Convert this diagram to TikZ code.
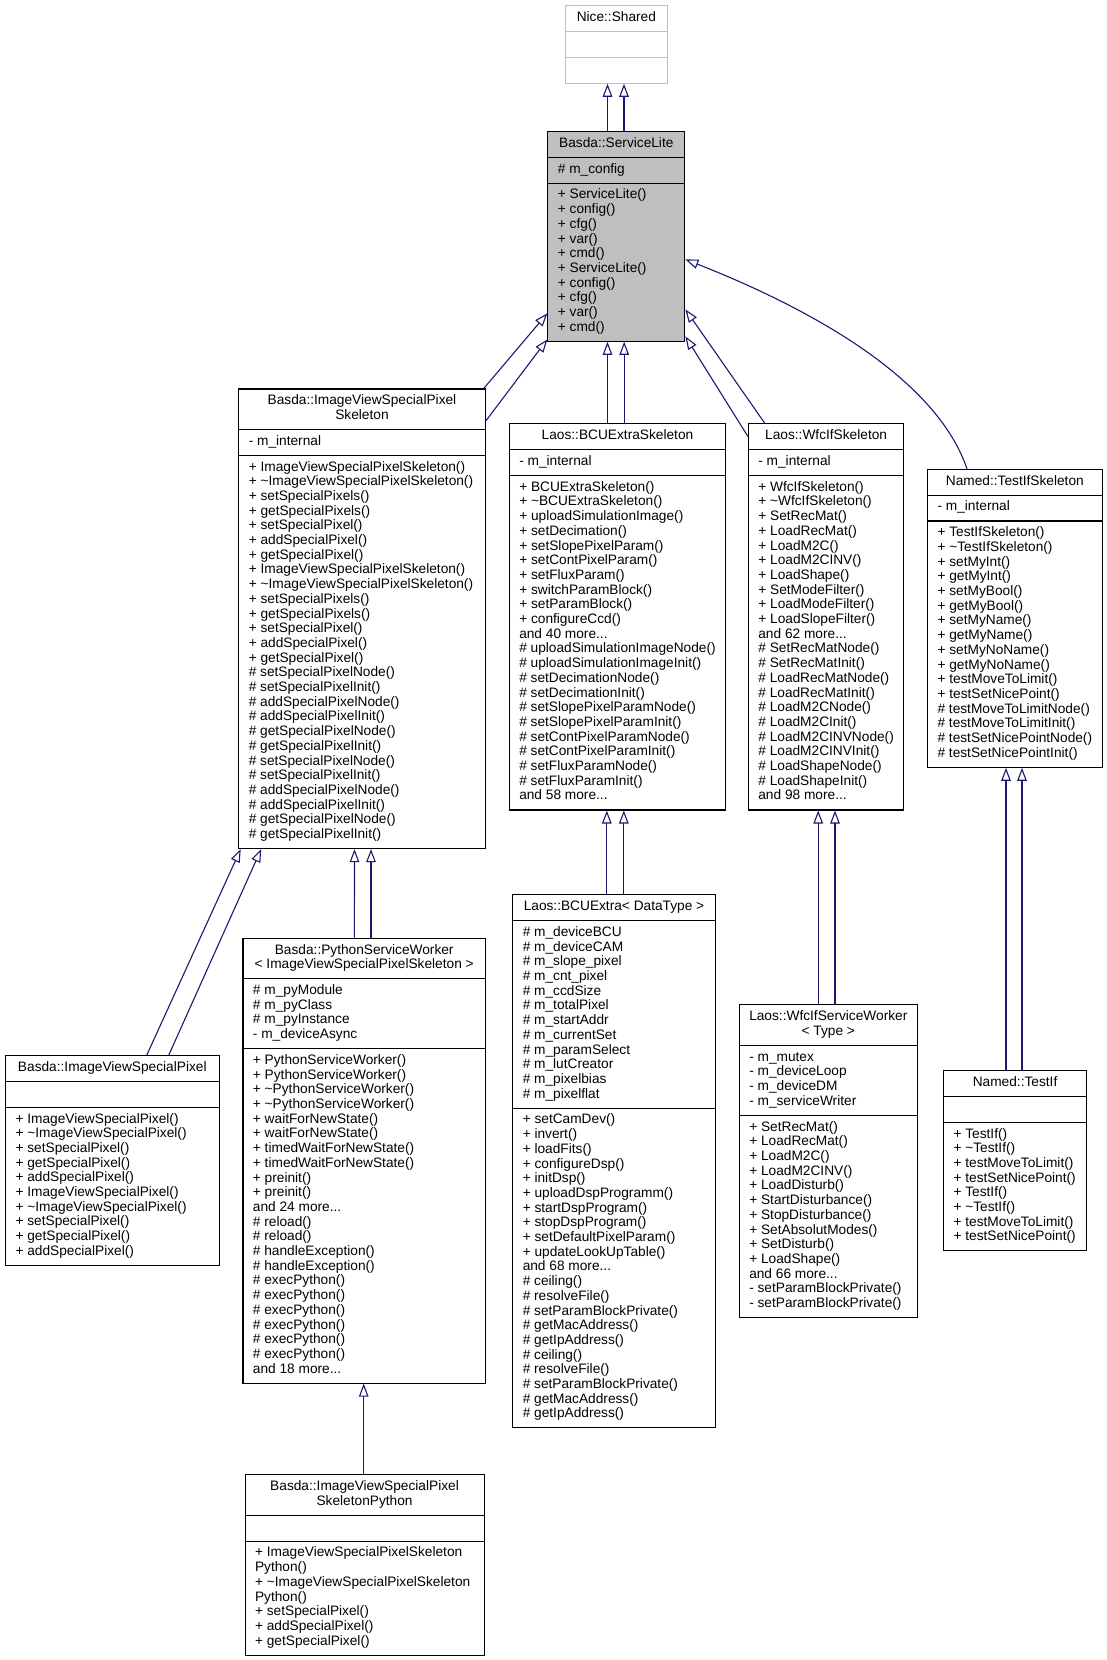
\documentclass[tikz,border=0pt]{standalone}
\usepackage{fontspec}
\setmainfont{Liberation Sans}
\usetikzlibrary{shapes.multipart,arrows.meta}
\definecolor{edgeblue}{RGB}{25,25,112}
\definecolor{boxgray}{RGB}{191,191,191}
\newcommand\lns[1]{\begin{tabular}{@{}l@{}}#1\end{tabular}}
\newcommand\ctl[1]{\begin{tabular}{@{}c@{}}#1\end{tabular}}
\newcommand\tld{\textasciitilde}
\begin{document}
\begin{tikzpicture}[x=1pt,y=-1pt,
  cls/.style={rectangle split, rectangle split parts=3, draw=black, line width=1.1pt,
    fill=white, inner xsep=10pt, inner ysep=5pt,
    rectangle split part align={center,left,left}, anchor=north west,
    font=\fontsize{13.7}{14.7}\selectfont},
  inh/.style={draw=edgeblue, line width=1.1pt,
    -{Triangle[length=13pt,width=9.5pt,fill=white]}}]
\useasboundingbox (0,0) rectangle (1107,1660);

% ---------- classes ----------
\node[cls, draw=boxgray, minimum width=102pt] (ns) at (564.8,5.3)
  {\ctl{Nice::Shared}\nodepart{two}\lns{\mbox{}}\nodepart{three}\lns{\mbox{}}};

\node[cls, fill=boxgray, minimum width=137pt] (sl) at (547.3,131)
  {\ctl{Basda::ServiceLite}\nodepart{two}\lns{\# m\_config}\nodepart{three}\lns{%
  + ServiceLite()\\+ config()\\+ cfg()\\+ var()\\+ cmd()\\%
  + ServiceLite()\\+ config()\\+ cfg()\\+ var()\\+ cmd()}};

\node[cls, minimum width=246.5pt] (ivsps) at (238.2,388.4)
  {\ctl{Basda::ImageViewSpecialPixel\\Skeleton}\nodepart{two}\lns{- m\_internal}\nodepart{three}\lns{%
  + ImageViewSpecialPixelSkeleton()\\+ \tld ImageViewSpecialPixelSkeleton()\\%
  + setSpecialPixels()\\+ getSpecialPixels()\\+ setSpecialPixel()\\+ addSpecialPixel()\\+ getSpecialPixel()\\%
  + ImageViewSpecialPixelSkeleton()\\+ \tld ImageViewSpecialPixelSkeleton()\\%
  + setSpecialPixels()\\+ getSpecialPixels()\\+ setSpecialPixel()\\+ addSpecialPixel()\\+ getSpecialPixel()\\%
  \# setSpecialPixelNode()\\\# setSpecialPixelInit()\\\# addSpecialPixelNode()\\\# addSpecialPixelInit()\\%
  \# getSpecialPixelNode()\\\# getSpecialPixelInit()\\\# setSpecialPixelNode()\\\# setSpecialPixelInit()\\%
  \# addSpecialPixelNode()\\\# addSpecialPixelInit()\\\# getSpecialPixelNode()\\\# getSpecialPixelInit()}};

\node[cls, minimum width=214.5pt] (bcus) at (508.7,423.3)
  {\ctl{Laos::BCUExtraSkeleton}\nodepart{two}\lns{- m\_internal}\nodepart{three}\lns{%
  + BCUExtraSkeleton()\\+ \tld BCUExtraSkeleton()\\+ uploadSimulationImage()\\+ setDecimation()\\%
  + setSlopePixelParam()\\+ setContPixelParam()\\+ setFluxParam()\\+ switchParamBlock()\\%
  + setParamBlock()\\+ configureCcd()\\and 40 more...\\%
  \# uploadSimulationImageNode()\\\# uploadSimulationImageInit()\\\# setDecimationNode()\\%
  \# setDecimationInit()\\\# setSlopePixelParamNode()\\\# setSlopePixelParamInit()\\%
  \# setContPixelParamNode()\\\# setContPixelParamInit()\\\# setFluxParamNode()\\%
  \# setFluxParamInit()\\and 58 more...}};

\node[cls, minimum width=154.5pt] (wfcs) at (747.8,423.3)
  {\ctl{Laos::WfcIfSkeleton}\nodepart{two}\lns{- m\_internal}\nodepart{three}\lns{%
  + WfcIfSkeleton()\\+ \tld WfcIfSkeleton()\\+ SetRecMat()\\+ LoadRecMat()\\+ LoadM2C()\\%
  + LoadM2CINV()\\+ LoadShape()\\+ SetModeFilter()\\+ LoadModeFilter()\\+ LoadSlopeFilter()\\%
  and 62 more...\\\# SetRecMatNode()\\\# SetRecMatInit()\\\# LoadRecMatNode()\\\# LoadRecMatInit()\\%
  \# LoadM2CNode()\\\# LoadM2CInit()\\\# LoadM2CINVNode()\\\# LoadM2CINVInit()\\%
  \# LoadShapeNode()\\\# LoadShapeInit()\\and 98 more...}};

\node[cls, minimum width=174pt] (tis) at (927,468.8)
  {\ctl{Named::TestIfSkeleton}\nodepart{two}\lns{- m\_internal}\nodepart{three}\lns{%
  + TestIfSkeleton()\\+ \tld TestIfSkeleton()\\+ setMyInt()\\+ getMyInt()\\+ setMyBool()\\%
  + getMyBool()\\+ setMyName()\\+ getMyName()\\+ setMyNoName()\\+ getMyNoName()\\%
  + testMoveToLimit()\\+ testSetNicePoint()\\\# testMoveToLimitNode()\\\# testMoveToLimitInit()\\%
  \# testSetNicePointNode()\\\# testSetNicePointInit()}};

\node[cls, minimum width=213.5pt] (ivsp) at (5,1055)
  {\ctl{Basda::ImageViewSpecialPixel}\nodepart{two}\lns{\mbox{}}\nodepart{three}\lns{%
  + ImageViewSpecialPixel()\\+ \tld ImageViewSpecialPixel()\\+ setSpecialPixel()\\%
  + getSpecialPixel()\\+ addSpecialPixel()\\%
  + ImageViewSpecialPixel()\\+ \tld ImageViewSpecialPixel()\\+ setSpecialPixel()\\%
  + getSpecialPixel()\\+ addSpecialPixel()}};

\node[cls, minimum width=242.5pt] (psw) at (242.4,937.6)
  {\ctl{Basda::PythonServiceWorker\\< ImageViewSpecialPixelSkeleton >}\nodepart{two}\lns{%
  \# m\_pyModule\\\# m\_pyClass\\\# m\_pyInstance\\- m\_deviceAsync}\nodepart{three}\lns{%
  + PythonServiceWorker()\\+ PythonServiceWorker()\\+ \tld PythonServiceWorker()\\%
  + \tld PythonServiceWorker()\\+ waitForNewState()\\+ waitForNewState()\\%
  + timedWaitForNewState()\\+ timedWaitForNewState()\\+ preinit()\\+ preinit()\\%
  and 24 more...\\\# reload()\\\# reload()\\\# handleException()\\\# handleException()\\%
  \# execPython()\\\# execPython()\\\# execPython()\\\# execPython()\\\# execPython()\\%
  \# execPython()\\and 18 more...}};

\node[cls, minimum width=202.5pt] (bcux) at (512.2,894.2)
  {\ctl{Laos::BCUExtra< DataType >}\nodepart{two}\lns{%
  \# m\_deviceBCU\\\# m\_deviceCAM\\\# m\_slope\_pixel\\\# m\_cnt\_pixel\\\# m\_ccdSize\\%
  \# m\_totalPixel\\\# m\_startAddr\\\# m\_currentSet\\\# m\_paramSelect\\\# m\_lutCreator\\%
  \# m\_pixelbias\\\# m\_pixelflat}\nodepart{three}\lns{%
  + setCamDev()\\+ invert()\\+ loadFits()\\+ configureDsp()\\+ initDsp()\\%
  + uploadDspProgramm()\\+ startDspProgram()\\+ stopDspProgram()\\+ setDefaultPixelParam()\\%
  + updateLookUpTable()\\and 68 more...\\\# ceiling()\\\# resolveFile()\\%
  \# setParamBlockPrivate()\\\# getMacAddress()\\\# getIpAddress()\\\# ceiling()\\%
  \# resolveFile()\\\# setParamBlockPrivate()\\\# getMacAddress()\\\# getIpAddress()}};

\node[cls, minimum width=178pt] (wfcsw) at (738.7,1004.3)
  {\ctl{Laos::WfcIfServiceWorker\\< Type >}\nodepart{two}\lns{%
  - m\_mutex\\- m\_deviceLoop\\- m\_deviceDM\\- m\_serviceWriter}\nodepart{three}\lns{%
  + SetRecMat()\\+ LoadRecMat()\\+ LoadM2C()\\+ LoadM2CINV()\\+ LoadDisturb()\\%
  + StartDisturbance()\\+ StopDisturbance()\\+ SetAbsolutModes()\\+ SetDisturb()\\%
  + LoadShape()\\and 66 more...\\- setParamBlockPrivate()\\- setParamBlockPrivate()}};

\node[cls, minimum width=143pt] (tif) at (943,1070)
  {\ctl{Named::TestIf}\nodepart{two}\lns{\mbox{}}\nodepart{three}\lns{%
  + TestIf()\\+ \tld TestIf()\\+ testMoveToLimit()\\+ testSetNicePoint()\\%
  + TestIf()\\+ \tld TestIf()\\+ testMoveToLimit()\\+ testSetNicePoint()}};

\node[cls, minimum width=239pt] (ivspy) at (244.5,1474.2)
  {\ctl{Basda::ImageViewSpecialPixel\\SkeletonPython}\nodepart{two}\lns{\mbox{}}\nodepart{three}\lns{%
  + ImageViewSpecialPixelSkeleton\\Python()\\+ \tld ImageViewSpecialPixelSkeleton\\Python()\\%
  + setSpecialPixel()\\+ addSpecialPixel()\\+ getSpecialPixel()}};

% ---------- inheritance edges ----------
\draw[inh] ([xshift=60.2pt]sl.north west) -- ([xshift=42.7pt]ns.south west);
\draw[inh] ([xshift=76.7pt]sl.north west) -- ([xshift=59.2pt]ns.south west);

\draw[inh] ([xshift=-2pt]ivsps.north east) -- ([yshift=28.4pt]sl.south west);
\draw[inh] ([yshift=-32.6pt]ivsps.north east) -- ([yshift=2.4pt]sl.south west);

\draw[inh] ([xshift=98.8pt]bcus.north west) -- ([xshift=60.2pt]sl.south west);
\draw[inh] ([xshift=115.5pt]bcus.north west) -- ([xshift=76.9pt]sl.south west);

\draw[inh] ([xshift=17pt]wfcs.north west) -- ([yshift=32.4pt]sl.south east);
\draw[inh] ([yshift=-13pt]wfcs.north west) -- ([yshift=5.4pt]sl.south east);

\draw[inh] ([xshift=40pt]tis.north west) .. controls (933,369) and (786,299) .. ([yshift=82.4pt]sl.south east);

\draw[inh] ([xshift=141.8pt]ivsp.north west) -- ([xshift=2.5pt]ivsps.south west);
\draw[inh] ([xshift=163.8pt]ivsp.north west) -- ([xshift=23pt]ivsps.south west);

\draw[inh] ([xshift=112pt]psw.north west) -- ([xshift=116.3pt]ivsps.south west);
\draw[inh] ([xshift=128.6pt]psw.north west) -- ([xshift=132.8pt]ivsps.south west);

\draw[inh] ([xshift=94.6pt]bcux.north west) -- ([xshift=98.1pt]bcus.south west);
\draw[inh] ([xshift=111.6pt]bcux.north west) -- ([xshift=115.1pt]bcus.south west);

\draw[inh] ([xshift=79.5pt]wfcsw.north west) -- ([xshift=70.4pt]wfcs.south west);
\draw[inh] ([xshift=96.3pt]wfcsw.north west) -- ([xshift=87.2pt]wfcs.south west);

\draw[inh] ([xshift=63pt]tif.north west) -- ([xshift=79pt]tis.south west);
\draw[inh] ([xshift=79pt]tif.north west) -- ([xshift=95pt]tis.south west);

\draw[inh] ([xshift=119.2pt]ivspy.north west) -- ([xshift=121.3pt]psw.south west);
\end{tikzpicture}
\end{document}
